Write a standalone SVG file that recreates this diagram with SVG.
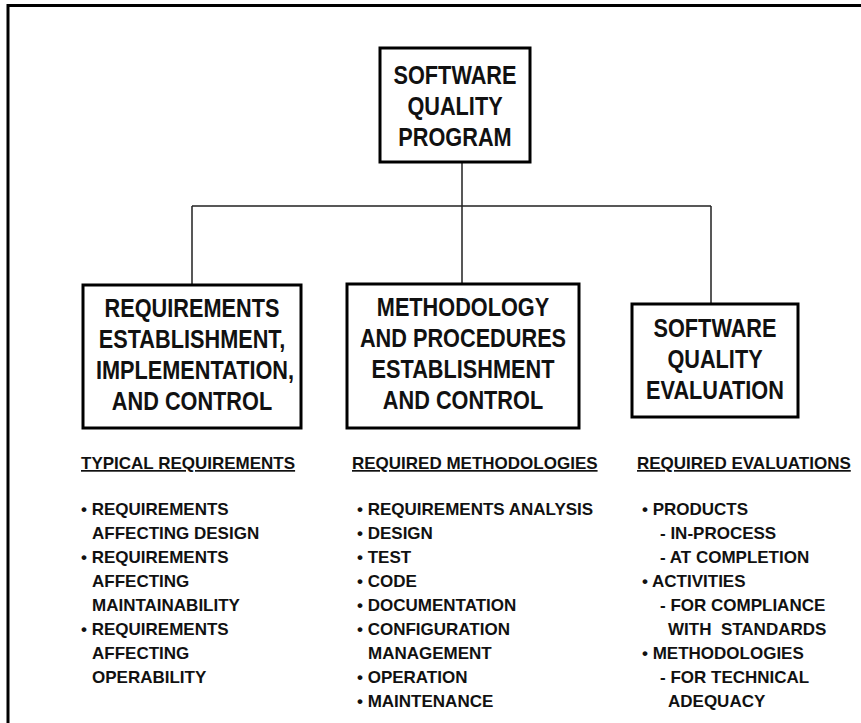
<svg xmlns="http://www.w3.org/2000/svg" width="861" height="723" viewBox="0 0 861 723">
<style>
.bx{fill:#fff;stroke:#000;stroke-width:3}
.t{font-family:"Liberation Sans",Arial,sans-serif;font-weight:bold;font-size:26px;text-anchor:middle;fill:#111}
.l{font-family:"Liberation Sans",Arial,sans-serif;font-weight:bold;font-size:17px;fill:#111;white-space:pre}
.h{text-decoration:underline}
.c{fill:none;stroke:#222;stroke-width:1.5}
</style>
<rect width="861" height="723" fill="#fff"/>
<path d="M8 723V5.5H861" fill="none" stroke="#000" stroke-width="3"/>
<g id="connectors">
<path class="c" d="M462 162V206M192 206H711M192 206V285M462 206V284M711 206V304"/>
</g>
<g id="program">
<rect class="bx" x="380" y="48" width="150" height="114"/>
<text class="t" transform="translate(455 84) scale(0.835 1)">SOFTWARE</text>
<text class="t" transform="translate(455 115) scale(0.835 1)">QUALITY</text>
<text class="t" transform="translate(455 146) scale(0.835 1)">PROGRAM</text>
</g>
<g id="requirements">
<rect class="bx" x="83" y="285" width="218" height="143"/>
<text class="t" transform="translate(192 317) scale(0.835 1)">REQUIREMENTS</text>
<text class="t" transform="translate(192 348) scale(0.835 1)">ESTABLISHMENT,</text>
<text class="t" transform="translate(195 379) scale(0.835 1)">IMPLEMENTATION,</text>
<text class="t" transform="translate(192 410) scale(0.835 1)">AND CONTROL</text>
</g>
<g id="methodology">
<rect class="bx" x="347" y="284" width="232" height="144"/>
<text class="t" transform="translate(463 316) scale(0.835 1)">METHODOLOGY</text>
<text class="t" transform="translate(463 347) scale(0.835 1)">AND PROCEDURES</text>
<text class="t" transform="translate(463 378) scale(0.835 1)">ESTABLISHMENT</text>
<text class="t" transform="translate(463 409) scale(0.835 1)">AND CONTROL</text>
</g>
<g id="evaluation">
<rect class="bx" x="632" y="304" width="166" height="113"/>
<text class="t" transform="translate(715 337) scale(0.835 1)">SOFTWARE</text>
<text class="t" transform="translate(715 368) scale(0.835 1)">QUALITY</text>
<text class="t" transform="translate(715 399) scale(0.835 1)">EVALUATION</text>
</g>
<g id="typical-requirements">
<text class="l h" x="81" y="469">TYPICAL REQUIREMENTS</text>
<text class="l" x="81" y="515">• REQUIREMENTS</text>
<text class="l" x="92" y="539">AFFECTING DESIGN</text>
<text class="l" x="81" y="563">• REQUIREMENTS</text>
<text class="l" x="92" y="587">AFFECTING</text>
<text class="l" x="92" y="611">MAINTAINABILITY</text>
<text class="l" x="81" y="635">• REQUIREMENTS</text>
<text class="l" x="92" y="659">AFFECTING</text>
<text class="l" x="92" y="683">OPERABILITY</text>
</g>
<g id="required-methodologies">
<text class="l h" x="352" y="469">REQUIRED METHODOLOGIES</text>
<text class="l" x="357" y="515">• REQUIREMENTS ANALYSIS</text>
<text class="l" x="357" y="539">• DESIGN</text>
<text class="l" x="357" y="563">• TEST</text>
<text class="l" x="357" y="587">• CODE</text>
<text class="l" x="357" y="611">• DOCUMENTATION</text>
<text class="l" x="357" y="635">• CONFIGURATION</text>
<text class="l" x="368" y="659">MANAGEMENT</text>
<text class="l" x="357" y="683">• OPERATION</text>
<text class="l" x="357" y="707">• MAINTENANCE</text>
</g>
<g id="required-evaluations">
<text class="l h" x="637" y="469">REQUIRED EVALUATIONS</text>
<text class="l" x="642" y="515">• PRODUCTS</text>
<text class="l" x="660" y="539">- IN-PROCESS</text>
<text class="l" x="660" y="563">- AT COMPLETION</text>
<text class="l" x="642" y="587">• ACTIVITIES</text>
<text class="l" x="660" y="611">- FOR COMPLIANCE</text>
<text class="l" x="668" y="635">WITH  STANDARDS</text>
<text class="l" x="642" y="659">• METHODOLOGIES</text>
<text class="l" x="660" y="683">- FOR TECHNICAL</text>
<text class="l" x="668" y="707">ADEQUACY</text>
</g>
</svg>
